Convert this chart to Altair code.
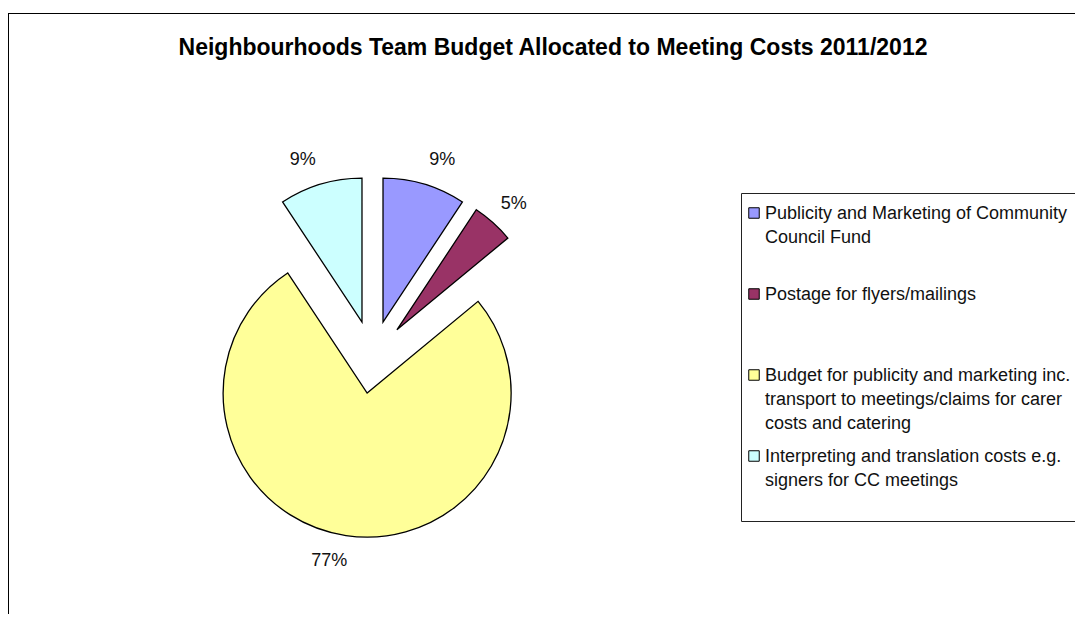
import altair as alt
import pandas as pd

# ---- data ----
categories = [
    "Publicity and Marketing of Community Council Fund",
    "Postage for flyers/mailings",
    "Budget for publicity and marketing inc. transport to meetings/claims for carer costs and catering",
    "Interpreting and translation costs e.g. signers for CC meetings",
]
legend_labels = [
    "Publicity and Marketing of Community\nCouncil Fund",
    "Postage for flyers/mailings",
    "Budget for publicity and marketing inc.\ntransport to meetings/claims for carer\ncosts and catering",
    "Interpreting and translation costs e.g.\nsigners for CC meetings",
]
shares = [9.3, 4.7, 76.7, 9.3]
colors = ["#9999FF", "#993366", "#FFFF99", "#CCFFFF"]
title_text = "Neighbourhoods Team Budget Allocated to Meeting Costs 2011/2012"

# ---- layout constants ----
W, H = 1067, 606
CX, CY = 364.5, 349.0
R = 144
EXPLODE = 36.5
LABEL_RX, LABEL_RY, LABEL_PAD = 188, 206, 15.5
LEG_Y0, LEG_DY = 210.5, 81
FONT = "Liberation Sans"

df = pd.DataFrame({"cat": categories, "legend": legend_labels,
                   "share": shares, "k": list(range(len(shares)))})

color = alt.Color("cat:N", scale=alt.Scale(domain=categories, range=colors), legend=None)

pie_base = (
    alt.Chart(df)
    .transform_window(cum="sum(share)", sort=[alt.SortField("k")], frame=[None, 0])
    .transform_joinaggregate(total="sum(share)")
    .transform_calculate(t1="2*PI*datum.cum/datum.total")
    .transform_calculate(t0="2*PI*(datum.cum-datum.share)/datum.total")
    .transform_calculate(mid="(datum.t0+datum.t1)/2")
    .transform_calculate(px=f"{CX}+{EXPLODE}*sin(datum.mid)")
    .transform_calculate(py=f"{CY}-{EXPLODE}*cos(datum.mid)")
    .transform_calculate(lx=f"{CX}+{LABEL_RX}*sin(datum.mid)+{LABEL_PAD}*(sin(datum.mid)>=0?1:-1)")
    .transform_calculate(ly=f"{CY}-{LABEL_RY}*cos(datum.mid)")
    .transform_calculate(pct="datum.share/datum.total")
)

arcs = pie_base.mark_arc(outerRadius=R, stroke="black", strokeWidth=1.3, opacity=1).encode(
    theta=alt.Theta("t0:Q", scale=None, stack=False),
    theta2="t1:Q",
    x=alt.X("px:Q", scale=None, axis=None),
    y=alt.Y("py:Q", scale=None, axis=None),
    color=color,
)

labels = pie_base.mark_text(fontSize=18, font=FONT, color="#111111",
                            align="center", baseline="middle").encode(
    x=alt.X("lx:Q", scale=None, axis=None),
    y=alt.Y("ly:Q", scale=None, axis=None),
    text=alt.Text("pct:Q", format=".0%"),
)

leg_base = alt.Chart(df).transform_calculate(
    ty=f"{LEG_Y0}+{LEG_DY}*datum.k"
).transform_calculate(sy="datum.ty-5.5")

leg_squares = leg_base.mark_square(size=110, stroke="black", strokeWidth=1, opacity=1).encode(
    x=alt.value(746),
    y=alt.Y("sy:Q", scale=None, axis=None),
    color=color,
)

leg_text = leg_base.mark_text(align="left", baseline="alphabetic", lineBreak="\n",
                              lineHeight=24, fontSize=18, font=FONT, color="#111111").encode(
    x=alt.value(757),
    y=alt.Y("ty:Q", scale=None, axis=None),
    text="legend:N",
)

leg_box = alt.Chart(pd.DataFrame({"a": [0]})).mark_rect(
    fill="white", stroke="#222222", strokeWidth=1).encode(
    x=alt.value(733.5), x2=alt.value(W + 30), y=alt.value(185.5), y2=alt.value(513.5)
)

frame_top = alt.Chart(pd.DataFrame({"a": [0]})).mark_rule(color="black", strokeWidth=1).encode(
    x=alt.value(0), x2=alt.value(W + 30), y=alt.value(5.5)
)
frame_left = alt.Chart(pd.DataFrame({"a": [0]})).mark_rule(color="black", strokeWidth=1).encode(
    x=alt.value(0.5), y=alt.value(5), y2=alt.value(H + 30)
)

title = alt.Chart(pd.DataFrame({"t": [title_text]})).mark_text(
    fontSize=23, fontWeight="bold", font=FONT, align="center", baseline="alphabetic",
    color="black").encode(
    x=alt.value(545), y=alt.value(47), text="t:N"
)

chart = alt.layer(frame_top, frame_left, leg_box, arcs, labels, leg_squares, leg_text, title).properties(
    width=W, height=H,
    autosize=alt.AutoSizeParams(type="none"),
    padding=0,
    background="white",
).configure_view(strokeWidth=0)

chart.save("out.html", embed_options={"renderer": "svg", "actions": False})
